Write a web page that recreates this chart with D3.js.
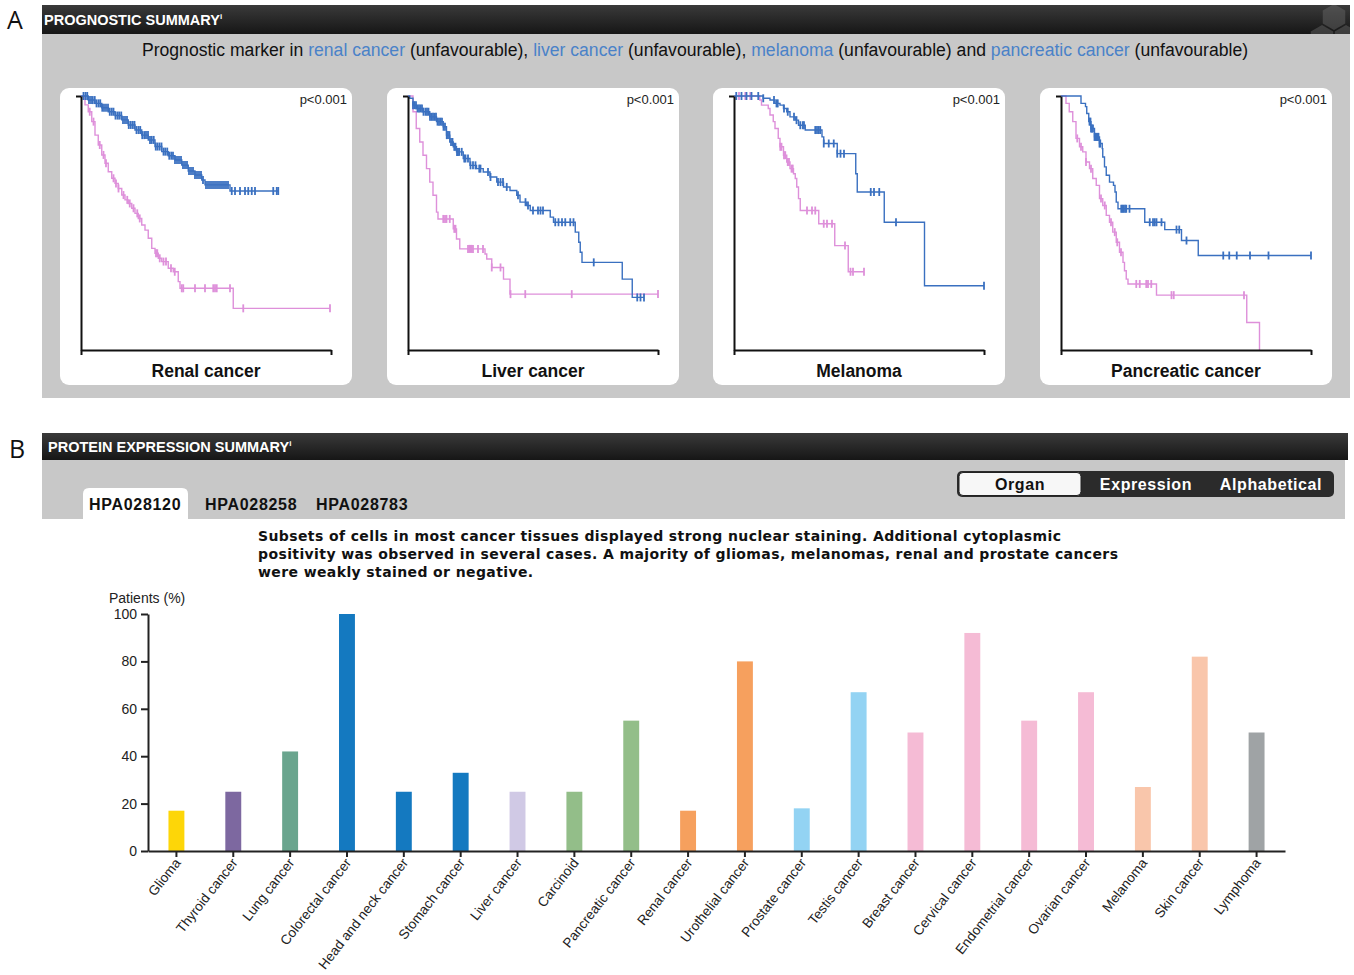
<!DOCTYPE html>
<html>
<head>
<meta charset="utf-8">
<script src="https://cdn.jsdelivr.net/npm/d3@7"></script>
<style>
  body { margin: 0; background: #fff; }
  svg { display: block; }
</style>
</head>
<body>
<div id="chart"></div>
<script>
// ---- panel A: Kaplan-Meier curves (time and survival both 0..1) ----
const kmTitles = ["Renal cancer", "Liver cancer", "Melanoma", "Pancreatic cancer"];

const renalHigh = [[0,1],[0.029,0.984],[0.056,0.971],[0.083,0.954],[0.109,0.938],[0.136,0.923],[0.163,0.906],[0.189,0.886],[0.216,0.866],[0.243,0.846],[0.269,0.827],[0.296,0.801],[0.323,0.781],[0.349,0.765],[0.376,0.748],[0.403,0.728],[0.429,0.705],[0.456,0.689],[0.483,0.669],[0.496,0.650],[0.596,0.626],[0.789,0.626]];
const renalHighCensor = [0.010,0.018,0.025,0.032,0.040,0.047,0.055,0.062,0.070,0.077,0.085,0.092,0.100,0.108,0.115,0.123,0.130,0.138,0.146,0.153,0.161,0.168,0.176,0.184,0.191,0.199,0.207,0.214,0.222,0.230,0.237,0.245,0.253,0.260,0.268,0.276,0.283,0.291,0.299,0.306,0.314,0.322,0.330,0.337,0.345,0.353,0.361,0.368,0.376,0.384,0.392,0.400,0.408,0.416,0.424,0.432,0.440,0.448,0.456,0.464,0.472,0.480,0.488,0.500,0.508,0.516,0.524,0.532,0.540,0.548,0.556,0.564,0.572,0.580,0.588,0.603,0.616,0.636,0.656,0.669,0.683,0.696,0.769,0.783,0.789];
const renalLow = [[0,1],[0.016,0.965],[0.029,0.938],[0.043,0.899],[0.056,0.846],[0.069,0.807],[0.083,0.768],[0.096,0.735],[0.109,0.702],[0.123,0.676],[0.136,0.656],[0.149,0.636],[0.163,0.610],[0.176,0.591],[0.189,0.577],[0.203,0.558],[0.216,0.538],[0.229,0.518],[0.243,0.492],[0.256,0.472],[0.269,0.440],[0.283,0.400],[0.296,0.381],[0.309,0.361],[0.323,0.348],[0.349,0.322],[0.369,0.308],[0.389,0.269],[0.396,0.243],[0.609,0.164],[0.996,0.164]];
const renalLowCensor = [0.035,0.05,0.075,0.09,0.1,0.13,0.14,0.15,0.17,0.185,0.195,0.21,0.225,0.235,0.3,0.305,0.315,0.33,0.34,0.36,0.375,0.403,0.409,0.456,0.496,0.529,0.536,0.543,0.596,0.649,0.996];

const liverHigh = [[0,1],[0.007,0.991],[0.020,0.964],[0.033,0.951],[0.060,0.938],[0.087,0.918],[0.114,0.899],[0.141,0.879],[0.154,0.846],[0.167,0.819],[0.181,0.800],[0.194,0.780],[0.221,0.754],[0.248,0.727],[0.274,0.714],[0.301,0.701],[0.328,0.681],[0.355,0.661],[0.382,0.642],[0.408,0.628],[0.435,0.609],[0.448,0.582],[0.475,0.569],[0.489,0.549],[0.569,0.523],[0.582,0.503],[0.669,0.464],[0.683,0.424],[0.689,0.385],[0.696,0.345],[0.857,0.279],[0.897,0.207],[0.944,0.207]];
const liverHighCensor = [0.02,0.026,0.032,0.038,0.044,0.05,0.056,0.062,0.07,0.076,0.082,0.088,0.094,0.1,0.106,0.112,0.118,0.124,0.13,0.136,0.142,0.148,0.155,0.16,0.166,0.172,0.178,0.185,0.19,0.196,0.2,0.205,0.215,0.225,0.23,0.24,0.25,0.26,0.27,0.285,0.29,0.32,0.33,0.36,0.37,0.38,0.395,0.44,0.47,0.48,0.5,0.52,0.53,0.54,0.589,0.602,0.616,0.629,0.649,0.662,0.743,0.917,0.930,0.944];
const liverLow = [[0,1],[0.020,0.938],[0.033,0.872],[0.047,0.819],[0.060,0.767],[0.074,0.714],[0.087,0.661],[0.100,0.609],[0.114,0.543],[0.120,0.516],[0.181,0.477],[0.194,0.437],[0.207,0.398],[0.308,0.378],[0.315,0.358],[0.335,0.325],[0.382,0.279],[0.408,0.220],[1,0.220]];
const liverLowCensor = [0.141,0.148,0.154,0.167,0.185,0.19,0.24,0.245,0.25,0.255,0.26,0.28,0.3,0.335,0.37,0.41,0.469,0.655,1.0];

const melHigh = [[0,1],[0.117,0.991],[0.144,0.984],[0.164,0.971],[0.184,0.964],[0.198,0.951],[0.211,0.938],[0.224,0.918],[0.245,0.905],[0.258,0.885],[0.285,0.866],[0.352,0.839],[0.359,0.813],[0.413,0.773],[0.487,0.694],[0.493,0.622],[0.601,0.503],[0.762,0.253],[1,0.253]];
const melHighCensor = [0.009,0.03,0.05,0.07,0.097,0.117,0.16,0.17,0.175,0.2,0.215,0.24,0.25,0.265,0.275,0.28,0.325,0.332,0.339,0.345,0.359,0.379,0.399,0.413,0.426,0.44,0.547,0.56,0.581,0.648,1.0];
const melLow = [[0,1],[0.103,0.984],[0.110,0.964],[0.137,0.951],[0.144,0.925],[0.157,0.899],[0.164,0.872],[0.177,0.833],[0.184,0.800],[0.198,0.767],[0.211,0.740],[0.224,0.714],[0.238,0.694],[0.245,0.675],[0.251,0.642],[0.258,0.596],[0.265,0.549],[0.339,0.497],[0.403,0.411],[0.457,0.308],[0.520,0.308]];
const melLowCensor = [0.02,0.045,0.065,0.185,0.19,0.2,0.205,0.215,0.22,0.23,0.235,0.292,0.312,0.325,0.359,0.372,0.392,0.444,0.466,0.476,0.52];

const pancHigh = [[0,1],[0.080,0.971],[0.098,0.958],[0.103,0.931],[0.111,0.899],[0.120,0.872],[0.134,0.839],[0.154,0.813],[0.165,0.793],[0.167,0.760],[0.174,0.721],[0.181,0.688],[0.194,0.661],[0.210,0.648],[0.216,0.622],[0.221,0.582],[0.228,0.556],[0.335,0.503],[0.415,0.474],[0.482,0.431],[0.549,0.372],[1,0.372]];
const pancHighCensor = [0.114,0.118,0.12,0.124,0.128,0.134,0.138,0.141,0.144,0.147,0.15,0.154,0.157,0.241,0.246,0.25,0.256,0.261,0.274,0.355,0.368,0.375,0.382,0.402,0.462,0.473,0.502,0.649,0.673,0.703,0.756,0.830,1.0];
const pancLow = [[0,1],[0.020,0.971],[0.033,0.938],[0.047,0.899],[0.060,0.833],[0.074,0.800],[0.087,0.780],[0.100,0.740],[0.114,0.714],[0.127,0.675],[0.141,0.648],[0.154,0.596],[0.167,0.569],[0.181,0.530],[0.194,0.503],[0.207,0.464],[0.221,0.424],[0.234,0.385],[0.248,0.345],[0.254,0.312],[0.261,0.279],[0.268,0.260],[0.382,0.216],[0.743,0.108],[0.794,0],[0.794,0]];
const pancLowCensor = [0.065,0.08,0.1,0.12,0.16,0.175,0.2,0.215,0.225,0.24,0.301,0.315,0.341,0.348,0.361,0.442,0.451,0.732];

const kmHigh = [renalHigh, liverHigh, melHigh, pancHigh];
const kmHighCensor = [renalHighCensor, liverHighCensor, melHighCensor, pancHighCensor];
const kmLow = [renalLow, liverLow, melLow, pancLow];
const kmLowCensor = [renalLowCensor, liverLowCensor, melLowCensor, pancLowCensor];

// ---- panel B: bar chart ----
const cancerTypes = ["Glioma","Thyroid cancer","Lung cancer","Colorectal cancer","Head and neck cancer","Stomach cancer","Liver cancer","Carcinoid","Pancreatic cancer","Renal cancer","Urothelial cancer","Prostate cancer","Testis cancer","Breast cancer","Cervical cancer","Endometrial cancer","Ovarian cancer","Melanoma","Skin cancer","Lymphoma"];
const patientPct = [17,25,42,100,25,33,25,25,55,17,80,18,67,50,92,55,67,27,82,50];
const barColors = ["#fdd608","#7d68a0","#6aa58e","#1479c0","#1479c0","#1479c0","#d0c9e5","#93be89","#93be89","#f6a05e","#f6a05e","#93d3f3","#93d3f3","#f5bbd5","#f5bbd5","#f5bbd5","#f5bbd5","#f9c6ab","#f9c6ab","#9fa3a5"];
const yTicks = [0,20,40,60,80,100];

const W = 1354, H = 975;
const svg = d3.select("#chart").append("svg").attr("width", W).attr("height", H);
const FONT = "'Liberation Sans', Arial, sans-serif";

const BLUE = "#3a70c0", PINK = "#de90da", LINK = "#4a82c8";

// panel letters
svg.append("text").attr("x", 7).attr("y", 29).text("A")
  .style("font-family", "'Open Sans', sans-serif").style("font-size", "25px").style("fill", "#111");
svg.append("text").attr("x", 9).attr("y", 458).text("B")
  .style("font-family", "'Open Sans', sans-serif").style("font-size", "25px").style("fill", "#111");

const defs = svg.append("defs");
const grad = defs.append("linearGradient").attr("id", "hdr").attr("x1", 0).attr("x2", 0).attr("y1", 0).attr("y2", 1);
grad.append("stop").attr("offset", "0%").attr("stop-color", "#3a3a3a");
grad.append("stop").attr("offset", "100%").attr("stop-color", "#161616");
defs.append("clipPath").attr("id", "hdrClip").append("rect").attr("x", 42).attr("y", 5).attr("width", 1308).attr("height", 29);

function header(y, h, x2, tx, label) {
  svg.append("rect").attr("x", 42).attr("y", y).attr("width", x2 - 42).attr("height", h).attr("fill", "url(#hdr)");
  const t = svg.append("text").attr("x", tx).attr("y", y + h / 2 + 5)
    .style("font-family", FONT).style("font-weight", "bold").style("font-size", "14.5px")
    .style("fill", "#fff");
  t.append("tspan").text(label);
  t.append("tspan").attr("dy", -6).style("font-size", "8px").text("i");
}

// ================= Panel A =================
svg.append("rect").attr("x", 42).attr("y", 34).attr("width", 1308).attr("height", 364).attr("fill", "#c8c8c8");
header(5, 29, 1350, 44, "PROGNOSTIC SUMMARY");

// faint hexagon logo in header corner
const hex = d3.range(6).map(k => [Math.cos(Math.PI / 3 * k + Math.PI / 6) * 13, Math.sin(Math.PI / 3 * k + Math.PI / 6) * 13]);
const logo = svg.append("g").attr("clip-path", "url(#hdrClip)");
[[1322, 38], [1346, 38], [1334, 17]].forEach(c => {
  logo.append("polygon").attr("points", hex.map(p => [c[0] + p[0], c[1] + p[1]].join(",")).join(" "))
    .attr("fill", "#6a6a6a").attr("opacity", 0.45);
});

// subtitle
const sub = svg.append("text").attr("x", 695).attr("y", 56).attr("text-anchor", "middle")
  .style("font-family", FONT).style("font-size", "17.6px").style("fill", "#111");
[["Prognostic marker in ", false], ["renal cancer", true], [" (unfavourable), ", false], ["liver cancer", true],
 [" (unfavourable), ", false], ["melanoma", true], [" (unfavourable) and ", false], ["pancreatic cancer", true],
 [" (unfavourable)", false]].forEach(s => {
  sub.append("tspan").text(s[0]).style("fill", s[1] ? LINK : "#111");
});

const cardX = [60, 387, 713, 1040];
const cardW = 292, cardH = 297, cardY = 88;

cardX.forEach((cx, i) => {
  const g = svg.append("g").attr("transform", `translate(${cx},${cardY})`);
  g.append("rect").attr("width", cardW).attr("height", cardH).attr("rx", 9).attr("fill", "#fff");

  const x = d3.scaleLinear().domain([0, 1]).range([21, 271]);
  const y = d3.scaleLinear().domain([0, 1]).range([262, 8]);

  const line = d3.line().x(d => x(d[0])).y(d => y(d[1])).curve(d3.curveStepAfter);
  const survAt = (steps, t) => {
    let s = 1;
    steps.forEach(d => { if (d[0] <= t) s = d[1]; });
    return s;
  };

  [[kmLow[i], kmLowCensor[i], PINK], [kmHigh[i], kmHighCensor[i], BLUE]].forEach(([steps, cens, col]) => {
    g.append("path").attr("d", line(steps)).attr("fill", "none").attr("stroke", col).attr("stroke-width", 1.4);
    g.append("g").selectAll("line").data(cens).join("line")
      .attr("x1", d => x(d)).attr("x2", d => x(d))
      .attr("y1", d => y(survAt(steps, d)) - 4).attr("y2", d => y(survAt(steps, d)) + 4)
      .attr("stroke", col).attr("stroke-width", 1.8);
  });

  // axes
  const ax = g.append("g").attr("transform", `translate(0,262)`)
    .call(d3.axisBottom(x).tickValues([0, 1]).tickSize(5).tickSizeOuter(0).tickFormat(""));
  const ay = g.append("g").attr("transform", `translate(21,0)`)
    .call(d3.axisLeft(y).tickValues([1]).tickSize(5).tickSizeOuter(0).tickFormat(""));
  [ax, ay].forEach(a => a.selectAll("path, line").attr("stroke", "#111").attr("stroke-width", 2));

  g.append("text").attr("x", cardW - 5).attr("y", 16).attr("text-anchor", "end").text("p<0.001")
    .style("font-family", FONT).style("font-size", "13px").style("fill", "#222");
  g.append("text").attr("x", cardW / 2).attr("y", 289).attr("text-anchor", "middle").text(kmTitles[i])
    .style("font-family", FONT).style("font-size", "17.5px").style("font-weight", "bold").style("fill", "#111");
});

// ================= Panel B =================
header(433, 27, 1348, 48, "PROTEIN EXPRESSION SUMMARY");
svg.append("rect").attr("x", 42).attr("y", 460).attr("width", 1303).attr("height", 59).attr("fill", "#c8c8c8");

// antibody tabs
svg.append("path").attr("d", "M83,519 V494 Q83,488 89,488 H182 Q188,488 188,494 V519 Z").attr("fill", "#fff");
[["HPA028120", 89], ["HPA028258", 205], ["HPA028783", 316]].forEach(t => {
  svg.append("text").attr("x", t[1]).attr("y", 510).text(t[0])
    .style("font-family", FONT).style("font-size", "16px").style("font-weight", "bold")
    .style("letter-spacing", "0.7px").style("fill", "#111");
});

// sort toggle
svg.append("rect").attr("x", 957).attr("y", 471).attr("width", 377).attr("height", 26).attr("rx", 5).attr("fill", "#2b2b2b");
svg.append("rect").attr("x", 959).attr("y", 472.5).attr("width", 122).attr("height", 23).attr("rx", 4)
  .attr("fill", "#f7f7f7").attr("stroke", "#222").attr("stroke-width", 1);
[["Organ", 1020, "#111"], ["Expression", 1146, "#fff"], ["Alphabetical", 1271, "#fff"]].forEach(t => {
  svg.append("text").attr("x", t[1]).attr("y", 490).attr("text-anchor", "middle").text(t[0])
    .style("font-family", FONT).style("font-size", "16px").style("font-weight", "bold")
    .style("letter-spacing", "0.6px").style("fill", t[2]);
});

// description
const descLines = [
  "Subsets of cells in most cancer tissues displayed strong nuclear staining. Additional cytoplasmic",
  "positivity was observed in several cases. A majority of gliomas, melanomas, renal and prostate cancers",
  "were weakly stained or negative."
];
descLines.forEach((l, k) => {
  svg.append("text").attr("x", 258).attr("y", 541 + k * 18).text(l)
    .style("font-family", "'DejaVu Sans', Verdana, sans-serif").style("font-size", "14px")
    .style("letter-spacing", "0.39px").style("font-weight", "bold").style("fill", "#111");
});

// bar chart
const xb = d3.scaleBand().domain(cancerTypes).range([148, 1285]).paddingInner(0.72).paddingOuter(0.36);
const yb = d3.scaleLinear().domain([0, 100]).range([851, 614]);

svg.append("g").selectAll("rect").data(cancerTypes).join("rect")
  .attr("x", d => xb(d)).attr("width", xb.bandwidth())
  .attr("y", (d, i) => yb(patientPct[i])).attr("height", (d, i) => 851 - yb(patientPct[i]))
  .attr("fill", (d, i) => barColors[i]);

const yAxis = svg.append("g").attr("transform", "translate(148,0)")
  .call(d3.axisLeft(yb).tickValues(yTicks).tickSize(7).tickSizeOuter(0).tickPadding(4));
yAxis.selectAll("text").style("font-family", FONT).style("font-size", "14px").style("fill", "#222");

const xAxis = svg.append("g").attr("transform", "translate(0,851)")
  .call(d3.axisBottom(xb).tickSize(6).tickSizeOuter(0));
xAxis.selectAll("text")
  .attr("text-anchor", "end")
  .attr("y", 0).attr("x", 0)
  .attr("transform", "translate(2,8) rotate(-52)")
  .attr("dy", "0.35em").attr("dx", "-0.1em")
  .style("font-family", FONT).style("font-size", "13.6px").style("fill", "#222");

[yAxis, xAxis].forEach(a => a.selectAll("path, line").attr("stroke", "#222").attr("stroke-width", 2));

svg.append("text").attr("x", 109).attr("y", 603).text("Patients (%)")
  .style("font-family", FONT).style("font-size", "14px").style("fill", "#222");
</script>
</body>
</html>
